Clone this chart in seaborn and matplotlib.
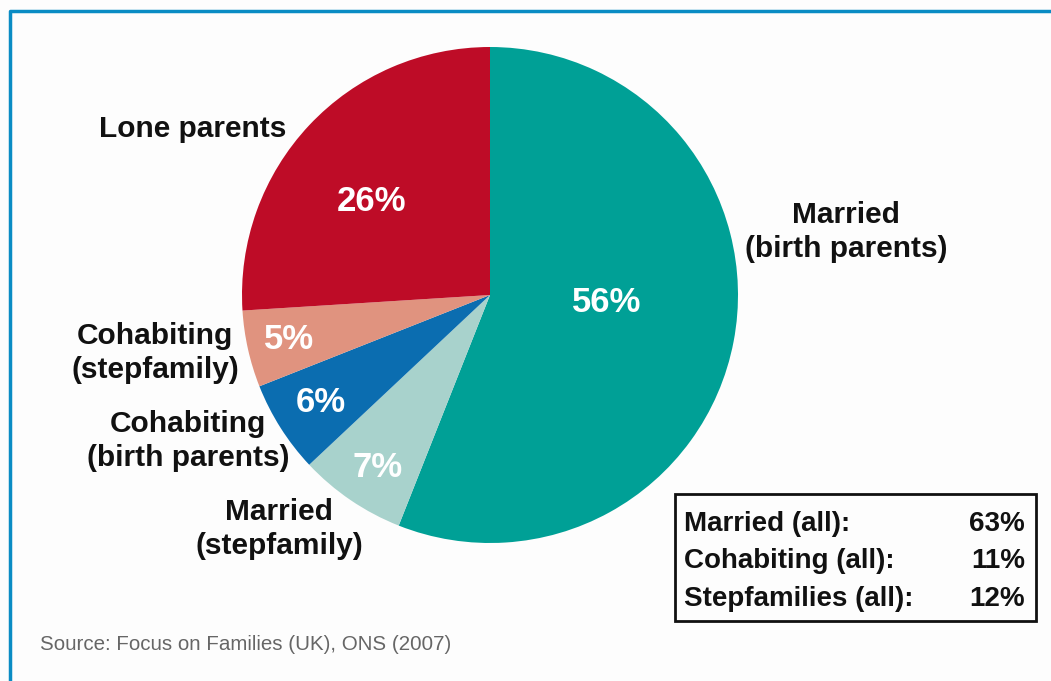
import numpy as np
import matplotlib
matplotlib.use("Agg")
import matplotlib.pyplot as plt
from matplotlib.lines import Line2D
from matplotlib.patches import Rectangle
import seaborn as sns

# data, clockwise from 12 o'clock
categories = ["Married\n(birth parents)", "Married\n(stepfamily)", "Cohabiting\n(birth parents)",
              "Cohabiting\n(stepfamily)", "Lone parents"]
shares = [56, 7, 6, 5, 26]
colors = ["#00A096", "#A8D2CC", "#0B6DB0", "#E0937F", "#BE0C27"]

summary_labels = ["Married (all):", "Cohabiting (all):", "Stepfamilies (all):"]
summary_values = ["63%", "11%", "12%"]
source = "Source: Focus on Families (UK), ONS (2007)"

W, H = 1051, 681
sns.set_theme(style="white")
plt.rcParams["font.family"] = ["Liberation Sans", "DejaVu Sans"]

fig = plt.figure(figsize=(W / 100, H / 100), dpi=100)
fig.patch.set_facecolor("#FDFDFD")

# pie axes: centre (490, 295) px, radius 248 px
cx, cy, r = 490, 295, 248
ax = fig.add_axes([(cx - r) / W, (H - cy - r) / H, 2 * r / W, 2 * r / H])
ax.set_facecolor("none")
wedges, _ = ax.pie(shares, colors=colors, startangle=90, counterclock=False,
                   radius=1, wedgeprops=dict(linewidth=0))
ax.set_xlim(-1, 1)
ax.set_ylim(-1, 1)
ax.set_aspect("equal")
ax.axis("off")

# percentage labels inside the wedges
label_r = [0.47, 0.83, 0.81, 0.83, 0.61]
angle_nudge = [7, 1, 0, 0, 5]
for w, s, lr, nd in zip(wedges, shares, label_r, angle_nudge):
    ang = np.deg2rad((w.theta1 + w.theta2) / 2 + nd)
    ax.text(lr * np.cos(ang), lr * np.sin(ang), f"{s}%", color="white",
            fontsize=25, fontweight="bold", ha="center", va="center")

# category labels outside (pixel centres)
outer_pos = [(846, 232), (279, 529), (188, 441), (155, 353), (193, 129)]
for lab, (x, y) in zip(categories, outer_pos):
    fig.text(x / W, 1 - y / H, lab, fontsize=21.5, fontweight="bold", color="#111111",
             ha="center", va="center", linespacing=1.28)

# summary box
fig.add_artist(Rectangle((675 / W, 1 - 621 / H), (1036 - 675) / W, (621 - 494) / H,
                         transform=fig.transFigure, fill=False, edgecolor="#111111", linewidth=2))
for i, (lab, val) in enumerate(zip(summary_labels, summary_values)):
    y = 1 - (524 + i * 37.5) / H
    fig.text(684 / W, y, lab, fontsize=20, fontweight="bold", color="#111111", ha="left", va="center")
    fig.text(1025 / W, y, val, fontsize=20, fontweight="bold", color="#111111", ha="right", va="center")

fig.text(40 / W, 1 - 645 / H, source, fontsize=14.8, color="#666666", ha="left", va="center")

# blue frame (top and left edges)
fig.add_artist(Line2D([9.5 / W, 9.5 / W, 1], [0, 1 - 10.5 / H, 1 - 10.5 / H],
                      transform=fig.transFigure, color="#0A8CC4", linewidth=2.5))

fig.savefig("out.png", dpi=100, facecolor=fig.get_facecolor())
